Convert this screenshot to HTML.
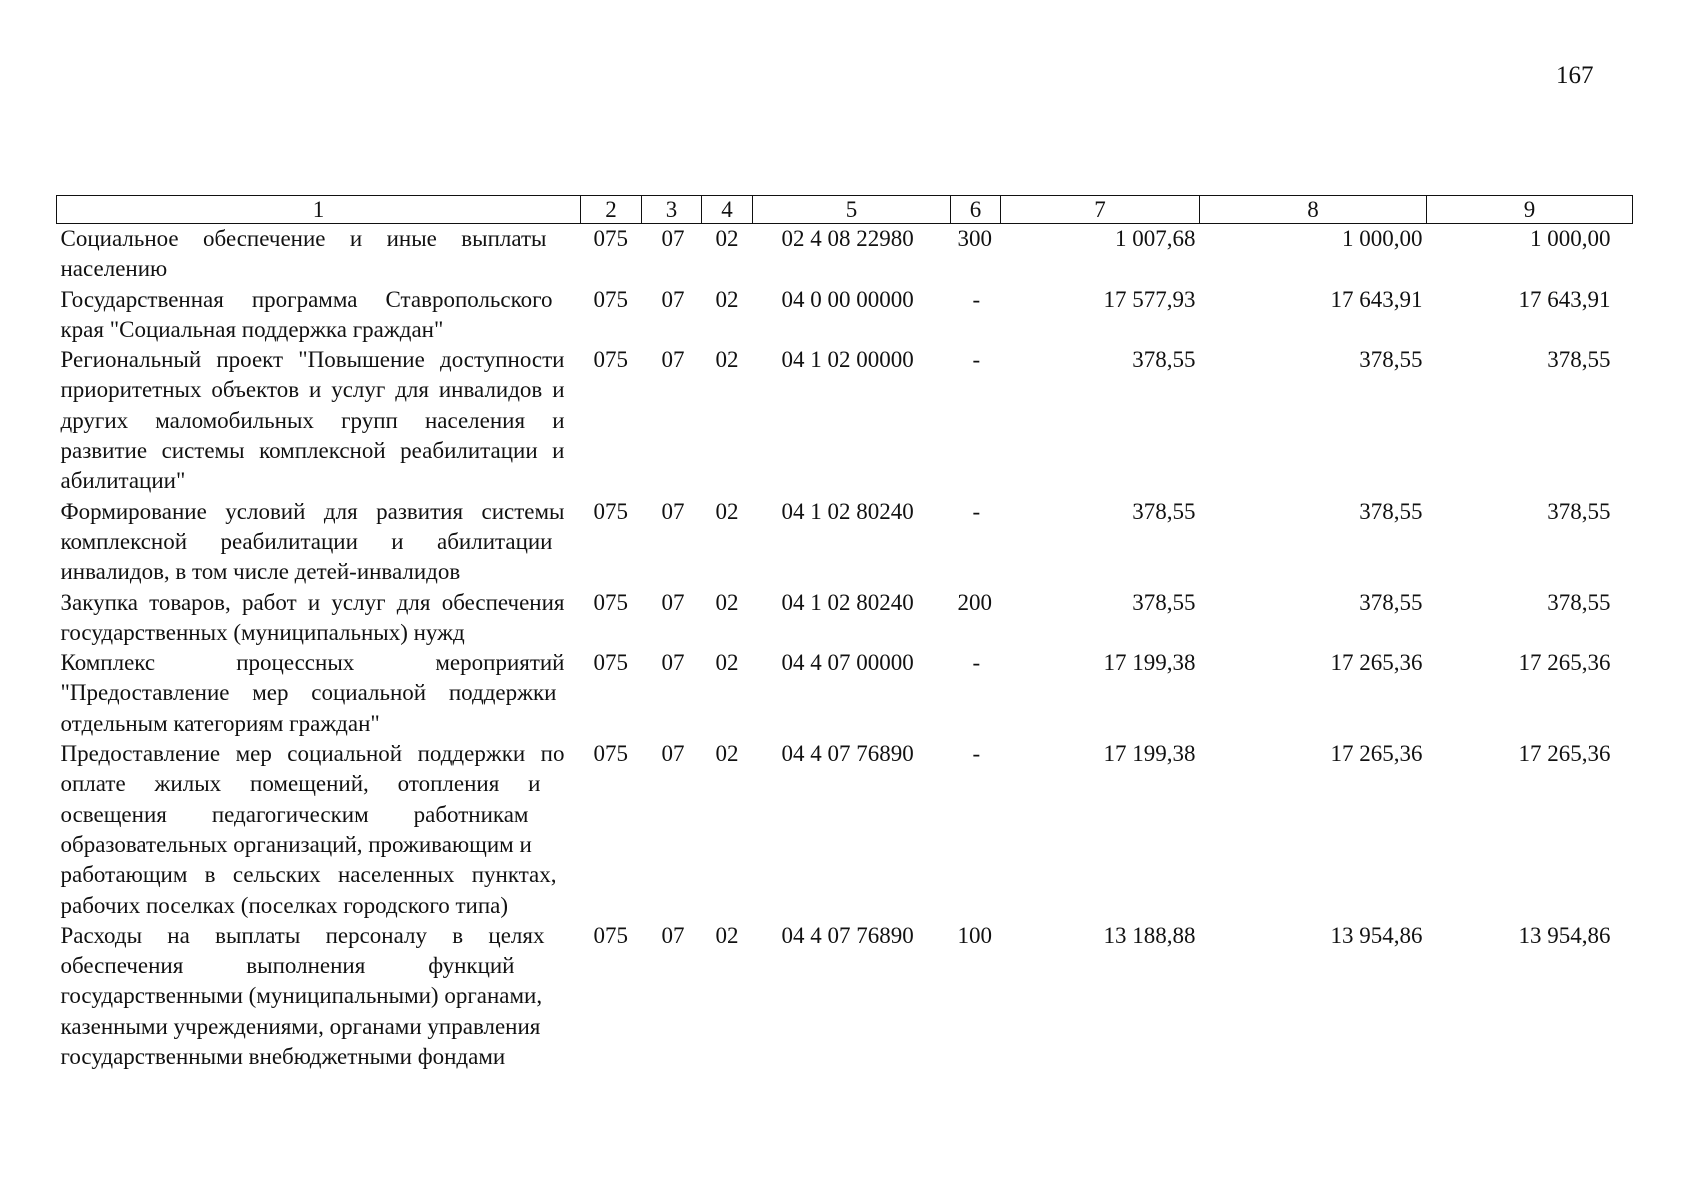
<!DOCTYPE html>
<html><head><meta charset="utf-8"><style>
html,body{margin:0;padding:0;background:#fff}
body{width:1692px;height:1200px;position:relative;overflow:hidden;font-family:"Liberation Serif",serif;font-size:23px;color:#111}
.pn{position:absolute;left:1556px;top:62px;font-size:25px}
table{position:absolute;left:56px;top:195px;border-collapse:collapse;table-layout:fixed}
td{padding:0;vertical-align:top;line-height:30.3px;white-space:nowrap}
tr.h td{border:1.5px solid #111;text-align:center;height:25px;line-height:27px;padding:0}
td.t{padding:0 16px 0 4px}
td.t div{white-space:nowrap;overflow:visible}
td.t div.j{text-align:justify;text-align-last:justify}
td.c2{padding-left:13px}td.c3{padding-left:20px}td.c4{padding-left:14px}td.c5{padding-left:29px}
td.c6{padding-left:7px}td.d{padding-left:22px}
td.r{text-align:right;padding-right:4px}td.r9{text-align:right;padding-right:22px}
</style></head><body>
<div class="pn">167</div>
<table>
<colgroup><col style="width:524px"><col style="width:61px"><col style="width:60px"><col style="width:51px"><col style="width:198px"><col style="width:50px"><col style="width:199px"><col style="width:227px"><col style="width:206px"></colgroup>
<tr class="h"><td>1</td><td>2</td><td>3</td><td>4</td><td>5</td><td>6</td><td>7</td><td>8</td><td>9</td></tr>
<tr><td class="t"><div class="j" style="margin-right:18px">Социальное обеспечение и иные выплаты</div><div>населению</div></td><td class="c2">075</td><td class="c3">07</td><td class="c4">02</td><td class="c5">02 4 08 22980</td><td class="c6">300</td><td class="r">1 007,68</td><td class="r">1 000,00</td><td class="r9">1 000,00</td></tr>
<tr><td class="t"><div class="j" style="margin-right:12px">Государственная программа Ставропольского</div><div>края "Социальная поддержка граждан"</div></td><td class="c2">075</td><td class="c3">07</td><td class="c4">02</td><td class="c5">04 0 00 00000</td><td class="d">-</td><td class="r">17 577,93</td><td class="r">17 643,91</td><td class="r9">17 643,91</td></tr>
<tr><td class="t"><div class="j">Региональный проект "Повышение доступности</div><div class="j">приоритетных объектов и услуг для инвалидов и</div><div class="j">других маломобильных групп населения и</div><div class="j">развитие системы комплексной реабилитации и</div><div>абилитации"</div></td><td class="c2">075</td><td class="c3">07</td><td class="c4">02</td><td class="c5">04 1 02 00000</td><td class="d">-</td><td class="r">378,55</td><td class="r">378,55</td><td class="r9">378,55</td></tr>
<tr><td class="t"><div class="j">Формирование условий для развития системы</div><div class="j" style="margin-right:12px">комплексной реабилитации и абилитации</div><div>инвалидов, в том числе детей-инвалидов</div></td><td class="c2">075</td><td class="c3">07</td><td class="c4">02</td><td class="c5">04 1 02 80240</td><td class="d">-</td><td class="r">378,55</td><td class="r">378,55</td><td class="r9">378,55</td></tr>
<tr><td class="t"><div class="j">Закупка товаров, работ и услуг для обеспечения</div><div>государственных (муниципальных) нужд</div></td><td class="c2">075</td><td class="c3">07</td><td class="c4">02</td><td class="c5">04 1 02 80240</td><td class="c6">200</td><td class="r">378,55</td><td class="r">378,55</td><td class="r9">378,55</td></tr>
<tr><td class="t"><div class="j">Комплекс процессных мероприятий</div><div class="j" style="margin-right:8px">"Предоставление мер социальной поддержки</div><div>отдельным категориям граждан"</div></td><td class="c2">075</td><td class="c3">07</td><td class="c4">02</td><td class="c5">04 4 07 00000</td><td class="d">-</td><td class="r">17 199,38</td><td class="r">17 265,36</td><td class="r9">17 265,36</td></tr>
<tr><td class="t"><div class="j">Предоставление мер социальной поддержки по</div><div class="j" style="margin-right:24px">оплате жилых помещений, отопления и</div><div class="j" style="margin-right:36px">освещения педагогическим работникам</div><div>образовательных организаций, проживающим и</div><div class="j" style="margin-right:8px">работающим в сельских населенных пунктах,</div><div>рабочих поселках (поселках городского типа)</div></td><td class="c2">075</td><td class="c3">07</td><td class="c4">02</td><td class="c5">04 4 07 76890</td><td class="d">-</td><td class="r">17 199,38</td><td class="r">17 265,36</td><td class="r9">17 265,36</td></tr>
<tr><td class="t"><div class="j" style="margin-right:20px">Расходы на выплаты персоналу в целях</div><div class="j" style="margin-right:50px">обеспечения выполнения функций</div><div>государственными (муниципальными) органами,</div><div>казенными учреждениями, органами управления</div><div>государственными внебюджетными фондами</div></td><td class="c2">075</td><td class="c3">07</td><td class="c4">02</td><td class="c5">04 4 07 76890</td><td class="c6">100</td><td class="r">13 188,88</td><td class="r">13 954,86</td><td class="r9">13 954,86</td></tr>
</table>
</body></html>
